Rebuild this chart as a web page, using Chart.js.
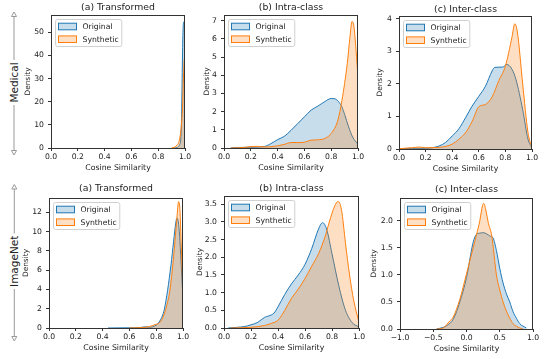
<!DOCTYPE html>
<html>
<head>
<meta charset="utf-8">
<title>Cosine similarity densities</title>
<script src="https://cdn.jsdelivr.net/npm/chart.js@4"></script>
<style>
  body { margin: 0; background: #fff; }
  #page { position: relative; width: 552px; height: 359px; overflow: hidden; background: #fff; }
  #page canvas { position: absolute; }
  #side { position: absolute; left: 0; top: 0; }
</style>
</head>
<body>
<div id="page">
  <svg id="side" width="40" height="359" font-family="DejaVu Sans" font-size="10.5px">
    <g stroke="#999" stroke-width="1" fill="#fff">
      <line x1="14" y1="16.5" x2="14" y2="60" />
      <line x1="14" y1="105" x2="14" y2="150.5" />
      <polygon points="14,12 11.5,16.5 16.5,16.5" />
      <polygon points="14,155 11.5,150.5 16.5,150.5" />
      <line x1="14.3" y1="189" x2="14.3" y2="233.5" />
      <line x1="14.3" y1="289" x2="14.3" y2="336.5" />
      <polygon points="14.3,184.5 11.8,189 16.8,189" />
      <polygon points="14.3,341 11.8,336.5 16.8,336.5" />
    </g>
    <text x="14" y="82.5" transform="rotate(-90 14 82.5)" text-anchor="middle" dominant-baseline="central" fill="#222">Medical</text>
    <text x="14.3" y="261.3" transform="rotate(-90 14.3 261.3)" text-anchor="middle" dominant-baseline="central" fill="#222">ImageNet</text>
  </svg>
</div>
<script>
// ---- data ----
const seriesNames = ['Original', 'Synthetic'];
const xTicks01 = [0, 0.2, 0.4, 0.6, 0.8, 1.0];
const xTicksSym = [-1, -0.5, 0, 0.5, 1];

// Medical, (a) Transformed
const medA_orig_x = [0.92, 0.94, 0.95, 0.96, 0.97, 0.975, 0.98, 0.985, 0.99, 1.0];
const medA_orig_y = [0, 0.2, 0.5, 1.5, 5, 15, 35, 50, 54.5, 54.7];
const medA_syn_x = [0.9, 0.92, 0.94, 0.95, 0.96, 0.97, 0.98, 0.99, 0.995, 1.0];
const medA_syn_y = [0, 0.3, 1.2, 2, 4, 8, 16, 33, 38.5, 39];
const medA_yTicks = [0, 10, 20, 30, 40, 50];

// Medical, (b) Intra-class
const medB_orig_x = [0.05, 0.1, 0.2, 0.3, 0.35, 0.4, 0.45, 0.5, 0.55, 0.6, 0.65, 0.7, 0.75, 0.8, 0.83, 0.86, 0.88, 0.9, 0.93, 0.96, 1.0];
const medB_orig_y = [0, 0.03, 0.04, 0.08, 0.24, 0.46, 0.64, 0.97, 1.34, 1.71, 2.08, 2.3, 2.54, 2.72, 2.7, 2.5, 2.26, 1.85, 1.16, 0.6, 0.2];
const medB_syn_x = [0.05, 0.15, 0.2, 0.25, 0.3, 0.35, 0.4, 0.45, 0.5, 0.55, 0.6, 0.65, 0.7, 0.75, 0.8, 0.85, 0.88, 0.9, 0.92, 0.94, 0.955, 0.97, 0.985, 1.0];
const medB_syn_y = [0, 0.03, 0.08, 0.09, 0.06, 0.07, 0.12, 0.2, 0.3, 0.3, 0.32, 0.43, 0.45, 0.52, 0.8, 1.53, 2.6, 3.55, 4.65, 6.1, 6.95, 6.67, 5.4, 3.9];
const medB_yTicks = [0, 1, 2, 3, 4, 5, 6, 7];

// Medical, (c) Inter-class
const medC_orig_x = [0, 0.1, 0.2, 0.25, 0.3, 0.35, 0.4, 0.45, 0.5, 0.55, 0.6, 0.65, 0.7, 0.72, 0.78, 0.81, 0.85, 0.88, 0.93, 0.97, 1.0];
const medC_orig_y = [0.01, 0.02, 0.02, 0.04, 0.09, 0.2, 0.4, 0.62, 0.96, 1.32, 1.62, 1.93, 2.4, 2.51, 2.52, 2.6, 2.45, 2.13, 1.21, 0.3, 0.04];
const medC_syn_x = [0, 0.1, 0.15, 0.2, 0.3, 0.35, 0.4, 0.45, 0.5, 0.55, 0.6, 0.65, 0.7, 0.75, 0.8, 0.85, 0.87, 0.89, 0.93, 0.97, 1.0];
const medC_syn_y = [0.01, 0.04, 0.06, 0.04, 0.05, 0.08, 0.15, 0.3, 0.5, 0.85, 1.3, 1.37, 1.6, 2.1, 2.55, 3.45, 3.85, 3.6, 2.0, 0.5, 0.03];
const medC_yTicks = [0, 1, 2, 3, 4];

// ImageNet, (a) Transformed
const imgA_orig_x = [0.44, 0.6, 0.68, 0.72, 0.75, 0.8, 0.83, 0.86, 0.885, 0.91, 0.93, 0.945, 0.955, 0.965, 0.975, 0.985, 1.0];
const imgA_orig_y = [0, 0.02, 0.05, 0.12, 0.08, 0.3, 0.8, 1.9, 3.9, 6.5, 9, 10.8, 11.4, 11.0, 9.5, 7, 3];
const imgA_syn_x = [0.6, 0.7, 0.75, 0.79, 0.82, 0.85, 0.88, 0.9, 0.92, 0.94, 0.955, 0.967, 0.977, 0.987, 1.0];
const imgA_syn_y = [0, 0.05, 0.15, 0.35, 0.5, 1.1, 2.4, 3.7, 6.0, 9.0, 11.5, 13.1, 12.3, 8.5, 3.5];
const imgA_yTicks = [0, 2, 4, 6, 8, 10, 12];

// ImageNet, (b) Intra-class
const imgB_orig_x = [0.03, 0.1, 0.15, 0.2, 0.25, 0.3, 0.33, 0.37, 0.4, 0.45, 0.5, 0.55, 0.6, 0.65, 0.7, 0.73, 0.76, 0.8, 0.85, 0.9, 0.95, 1.0];
const imgB_orig_y = [0, 0.02, 0.04, 0.09, 0.16, 0.3, 0.34, 0.42, 0.6, 0.95, 1.25, 1.5, 1.8, 2.25, 2.8, 2.98, 2.8, 2.1, 1.2, 0.5, 0.15, 0.03];
const imgB_syn_x = [0.05, 0.2, 0.3, 0.35, 0.4, 0.45, 0.5, 0.55, 0.6, 0.65, 0.7, 0.75, 0.78, 0.82, 0.845, 0.87, 0.9, 0.93, 0.96, 1.0];
const imgB_syn_y = [0, 0.02, 0.07, 0.13, 0.22, 0.5, 0.84, 1.1, 1.4, 1.75, 2.1, 2.6, 3.0, 3.45, 3.58, 3.35, 2.4, 1.5, 0.8, 0.15];
const imgB_yTicks = [0, 0.5, 1.0, 1.5, 2.0, 2.5, 3.0, 3.5];

// ImageNet, (c) Inter-class
const imgC_orig_x = [-0.45, -0.35, -0.3, -0.2, -0.1, 0.0, 0.1, 0.15, 0.2, 0.25, 0.3, 0.35, 0.4, 0.45, 0.5, 0.55, 0.6, 0.65, 0.7, 0.75, 0.8, 0.9];
const imgC_orig_y = [0, 0.03, 0.06, 0.18, 0.5, 0.95, 1.6, 1.75, 1.77, 1.78, 1.76, 1.72, 1.68, 1.45, 1.12, 0.85, 0.65, 0.5, 0.32, 0.2, 0.1, 0.02];
const imgC_syn_x = [-0.45, -0.35, -0.25, -0.2, -0.1, 0.0, 0.1, 0.15, 0.2, 0.24, 0.26, 0.29, 0.33, 0.38, 0.45, 0.5, 0.55, 0.6, 0.65, 0.7, 0.8, 0.85];
const imgC_syn_y = [0, 0.02, 0.15, 0.22, 0.55, 1.02, 1.5, 1.74, 2.0, 2.28, 2.32, 2.2, 1.95, 1.72, 1.0, 0.72, 0.5, 0.33, 0.2, 0.1, 0.02, 0];
const imgC_yTicks = [0, 0.5, 1.0, 1.5, 2.0];

// ---- panels ----
const panels = [
  { title: '(a) Transformed', ox: medA_orig_x, oy: medA_orig_y, sx: medA_syn_x, sy: medA_syn_y, xMin: 0, xMax: 1, xTicks: xTicks01, yMax: 57.5, yTicks: medA_yTicks, yDec: 0 },
  { title: '(b) Intra-class', ox: medB_orig_x, oy: medB_orig_y, sx: medB_syn_x, sy: medB_syn_y, xMin: 0, xMax: 1, xTicks: xTicks01, yMax: 7.31, yTicks: medB_yTicks, yDec: 0 },
  { title: '(c) Inter-class', ox: medC_orig_x, oy: medC_orig_y, sx: medC_syn_x, sy: medC_syn_y, xMin: 0, xMax: 1, xTicks: xTicks01, yMax: 4.09, yTicks: medC_yTicks, yDec: 0 },
  { title: '(a) Transformed', ox: imgA_orig_x, oy: imgA_orig_y, sx: imgA_syn_x, sy: imgA_syn_y, xMin: 0, xMax: 1, xTicks: xTicks01, yMax: 13.48, yTicks: imgA_yTicks, yDec: 0 },
  { title: '(b) Intra-class', ox: imgB_orig_x, oy: imgB_orig_y, sx: imgB_syn_x, sy: imgB_syn_y, xMin: 0, xMax: 1, xTicks: xTicks01, yMax: 3.735, yTicks: imgB_yTicks, yDec: 1 },
  { title: '(c) Inter-class', ox: imgC_orig_x, oy: imgC_orig_y, sx: imgC_syn_x, sy: imgC_syn_y, xMin: -1, xMax: 1, xTicks: xTicksSym, yMax: 2.42, yTicks: imgC_yTicks, yDec: 1 }
];

// plot rectangles on the page (L,T,R,B) and left edge of each canvas
const boxes = [
  { L: 51, T: 15, R: 185, B: 148, cx: 24, gap: 7 },
  { L: 224, T: 15, R: 358, B: 148, cx: 203, gap: 7 },
  { L: 399, T: 16, R: 532, B: 149, cx: 376, gap: 6.5 },
  { L: 49, T: 198, R: 183, B: 328, cx: 22, gap: 9.5 },
  { L: 224, T: 196, R: 359, B: 328, cx: 196, gap: 7.5 },
  { L: 400, T: 198, R: 533, B: 329, cx: 370, gap: 8 }
];

const FONT = '"DejaVu Sans", sans-serif';
const INK = '#222';
const BLUE = '#1f77b4', ORANGE = '#ff7f0e';
const BLUE_FILL = 'rgba(31,119,180,0.25)', ORANGE_FILL = 'rgba(255,127,14,0.25)';

function fmt(v, dec) {
  let s = Math.abs(v) < 1e-9 ? (0).toFixed(dec) : v.toFixed(dec);
  return s.replace('-', '\u2212');
}

function toPts(xs, ys) {
  return xs.map((x, i) => ({ x: x, y: ys[i] }));
}

// frame, title and in-axes legend
const panelDeco = {
  id: 'panelDeco',
  afterDatasetsDraw(chart, args, opts) {
    const a = chart.chartArea;
    const ctx = chart.ctx;
    ctx.save();
    // frame
    ctx.strokeStyle = '#333';
    ctx.lineWidth = 1;
    ctx.strokeRect(Math.round(a.left) + 0.5, Math.round(a.top) + 0.5,
      Math.round(a.right - a.left) - 1, Math.round(a.bottom - a.top));
    // title
    ctx.fillStyle = INK;
    ctx.font = '9.3px ' + FONT;
    ctx.textAlign = 'center';
    ctx.textBaseline = 'middle';
    ctx.fillText(opts.title, (a.left + a.right) / 2, a.top - opts.gap);
    // legend
    ctx.font = '7.7px ' + FONT;
    const tw = Math.max(...seriesNames.map(n => ctx.measureText(n).width));
    const x0 = Math.round(a.left) + 4.5, y0 = Math.round(a.top) + 4.5;
    const bw = 27 + tw + 3, bh = 27;
    ctx.beginPath();
    ctx.roundRect(x0, y0, bw, bh, 2);
    ctx.fillStyle = 'rgba(255,255,255,0.8)';
    ctx.fill();
    ctx.strokeStyle = '#d0d0d0';
    ctx.stroke();
    const fills = [BLUE_FILL, ORANGE_FILL], lines = [BLUE, ORANGE];
    seriesNames.forEach((n, i) => {
      const cy = y0 + 7 + i * 12.7;
      ctx.fillStyle = '#fff';
      ctx.fillRect(x0 + 3, cy - 3.3, 18, 6.6);
      ctx.fillStyle = fills[i];
      ctx.fillRect(x0 + 3, cy - 3.3, 18, 6.6);
      ctx.strokeStyle = lines[i];
      ctx.strokeRect(x0 + 3, cy - 3.3, 18, 6.6);
      ctx.fillStyle = INK;
      ctx.textAlign = 'left';
      ctx.fillText(n, x0 + 27, cy + 0.5);
    });
    ctx.restore();
  }
};

const page = document.getElementById('page');

panels.forEach((p, k) => {
  const b = boxes[k];
  const yW = b.L - b.cx;
  const padTop = 20, xH = 25, padRight = 8;
  const cv = document.createElement('canvas');
  cv.width = yW + (b.R - b.L) + padRight;
  cv.height = padTop + (b.B - b.T) + xH;
  cv.style.left = b.cx + 'px';
  cv.style.top = (b.T - padTop) + 'px';
  page.appendChild(cv);

  new Chart(cv.getContext('2d'), {
    type: 'line',
    data: {
      datasets: [
        {
          label: seriesNames[0],
          data: toPts(p.ox, p.oy),
          borderColor: BLUE,
          backgroundColor: BLUE_FILL,
          borderWidth: 1,
          pointRadius: 0,
          fill: 'origin',
          cubicInterpolationMode: 'monotone',
          order: 1
        },
        {
          label: seriesNames[1],
          data: toPts(p.sx, p.sy),
          borderColor: ORANGE,
          backgroundColor: ORANGE_FILL,
          borderWidth: 1,
          pointRadius: 0,
          fill: 'origin',
          cubicInterpolationMode: 'monotone',
          order: 0
        }
      ]
    },
    plugins: [panelDeco],
    options: {
      responsive: false,
      animation: false,
      layout: { padding: { top: padTop, right: padRight, left: 0, bottom: 0 } },
      plugins: {
        legend: { display: false },
        tooltip: { enabled: false },
        panelDeco: { title: p.title, gap: b.gap }
      },
      scales: {
        x: {
          type: 'linear',
          min: p.xMin,
          max: p.xMax,
          afterBuildTicks: s => { s.ticks = p.xTicks.map(v => ({ value: v })); },
          afterFit: s => { s.height = xH; },
          ticks: {
            autoSkip: false,
            maxRotation: 0,
            padding: 1,
            color: INK,
            font: { family: FONT, size: 7.7 },
            callback: v => fmt(v, 1)
          },
          grid: { drawOnChartArea: false, drawTicks: true, tickLength: 3, color: '#333' },
          border: { display: false },
          title: { display: true, text: 'Cosine Similarity', color: INK, padding: 0, font: { family: FONT, size: 7.8 } }
        },
        y: {
          type: 'linear',
          min: 0,
          max: p.yMax,
          afterBuildTicks: s => { s.ticks = p.yTicks.map(v => ({ value: v })); },
          afterFit: s => { s.width = yW; },
          ticks: {
            autoSkip: false,
            padding: 4,
            color: INK,
            font: { family: FONT, size: 7.7 },
            callback: v => fmt(v, p.yDec)
          },
          grid: { drawOnChartArea: false, drawTicks: true, tickLength: 3, color: '#333' },
          border: { display: false },
          title: { display: true, text: 'Density', color: INK, padding: 0, font: { family: FONT, size: 7.4 } }
        }
      }
    }
  });
});
</script>
</body>
</html>
